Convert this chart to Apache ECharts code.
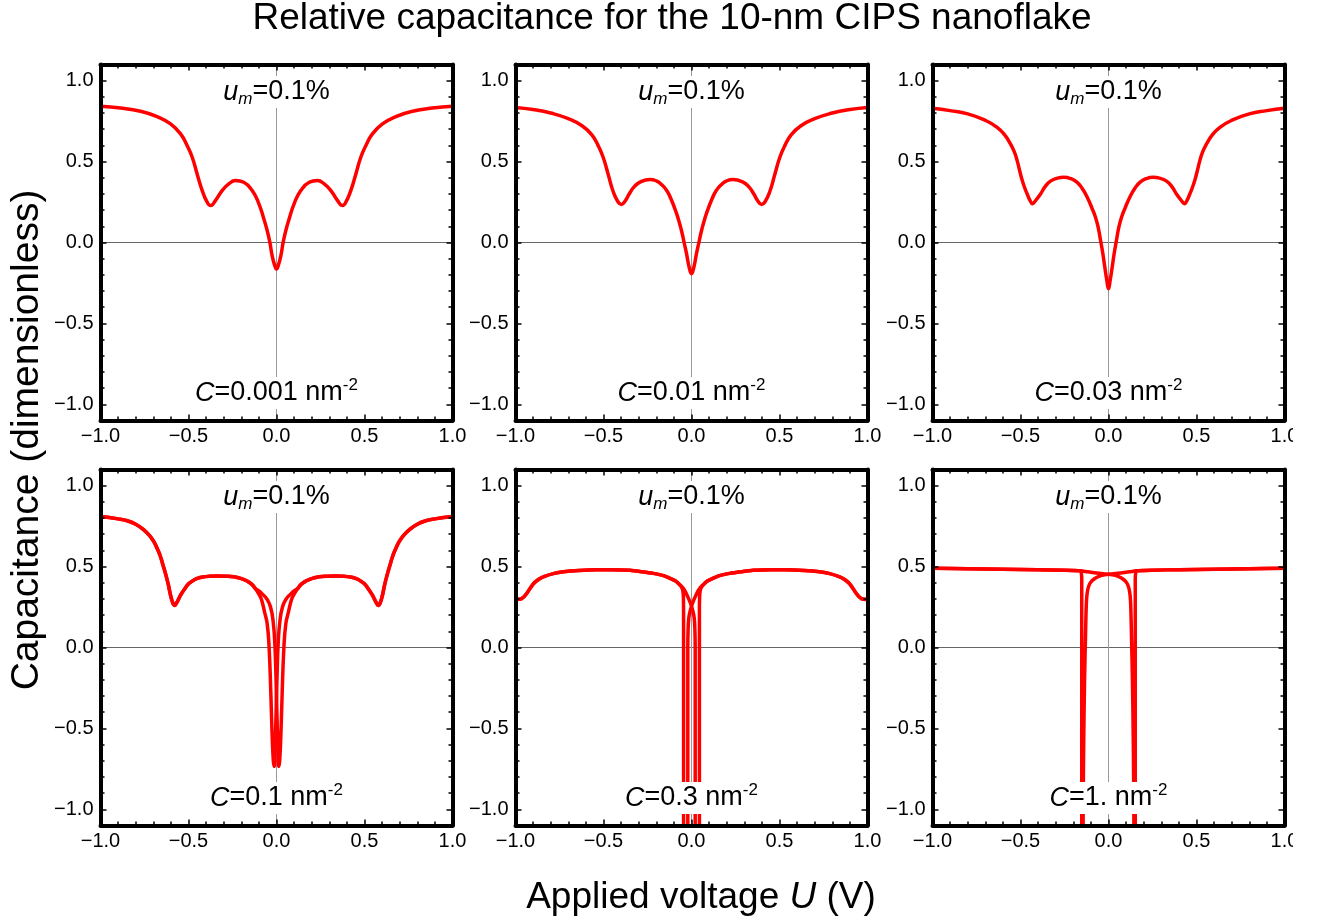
<!DOCTYPE html>
<html>
<head>
<meta charset="utf-8">
<title>Relative capacitance for the 10-nm CIPS nanoflake</title>
<script src="https://cdn.jsdelivr.net/npm/echarts@6.0.0/dist/echarts.min.js"></script>
<style>
  html, body { margin: 0; padding: 0; background: #fff; }
  #chart { width: 1324px; height: 921px; }
</style>
</head>
<body>
<div id="chart"></div>
<script>
const FONT = '"Liberation Sans", Arial, Helvetica, sans-serif';

// ticks shared by all six panels
const majorTicks = [-1, -0.5, 0, 0.5, 1];
const majorText = ['\u22121.0', '\u22120.5', '0.0', '0.5', '1.0'];
const minorTicks = [-0.9, -0.8, -0.7, -0.6, -0.4, -0.3, -0.2, -0.1, 0.1, 0.2, 0.3, 0.4, 0.6, 0.7, 0.8, 0.9];

// panel annotations
const strainText = '0.1%';
const cValues = ['0.001', '0.01', '0.03', '0.1', '0.3', '1.'];

// C = 0.001 nm^-2
const p1Left = [[-1, 0.842], [-0.886, 0.831], [-0.773, 0.811], [-0.678, 0.778], [-0.602, 0.733], [-0.545, 0.671], [-0.508, 0.599], [-0.479, 0.527], [-0.451, 0.424], [-0.422, 0.321], [-0.394, 0.249], [-0.375, 0.228], [-0.347, 0.259], [-0.309, 0.321], [-0.271, 0.362], [-0.233, 0.383], [-0.186, 0.372], [-0.138, 0.321], [-0.1, 0.239], [-0.072, 0.146], [-0.053, 0.074], [-0.038, 0.002], [-0.025, -0.08], [-0.012, -0.135], [0, -0.163]];
const p1Right = [[0.012, -0.135], [0.025, -0.08], [0.038, 0.002], [0.053, 0.074], [0.072, 0.146], [0.1, 0.239], [0.138, 0.321], [0.186, 0.372], [0.233, 0.383], [0.271, 0.362], [0.309, 0.321], [0.347, 0.259], [0.375, 0.228], [0.394, 0.249], [0.422, 0.321], [0.451, 0.424], [0.479, 0.527], [0.508, 0.599], [0.545, 0.671], [0.602, 0.733], [0.678, 0.778], [0.773, 0.811], [0.886, 0.831], [1, 0.842]];

// C = 0.01 nm^-2
const p2Left = [[-1, 0.835], [-0.9, 0.822], [-0.8, 0.80], [-0.7, 0.765], [-0.62, 0.72], [-0.566, 0.665], [-0.531, 0.6], [-0.502, 0.527], [-0.474, 0.424], [-0.445, 0.315], [-0.417, 0.25], [-0.398, 0.235], [-0.375, 0.26], [-0.354, 0.30], [-0.325, 0.345], [-0.29, 0.375], [-0.235, 0.389], [-0.2, 0.381], [-0.174, 0.362], [-0.14, 0.32], [-0.117, 0.27], [-0.09, 0.195], [-0.07, 0.126], [-0.055, 0.065], [-0.042, 0.0], [-0.028, -0.07], [-0.014, -0.15], [0, -0.193]];
const p2Right = [[0.014, -0.15], [0.028, -0.07], [0.042, 0.0], [0.055, 0.065], [0.07, 0.126], [0.09, 0.195], [0.117, 0.27], [0.14, 0.32], [0.174, 0.362], [0.2, 0.381], [0.235, 0.389], [0.29, 0.375], [0.325, 0.345], [0.354, 0.30], [0.375, 0.26], [0.398, 0.235], [0.417, 0.25], [0.445, 0.315], [0.474, 0.424], [0.502, 0.527], [0.531, 0.6], [0.566, 0.665], [0.62, 0.72], [0.7, 0.765], [0.8, 0.80], [0.9, 0.822], [1, 0.835]];

// C = 0.03 nm^-2
const p3Left = [[-1, 0.83], [-0.9, 0.815], [-0.8, 0.795], [-0.7, 0.755], [-0.633, 0.712], [-0.59, 0.665], [-0.557, 0.609], [-0.535, 0.56], [-0.519, 0.506], [-0.505, 0.445], [-0.49, 0.383], [-0.475, 0.335], [-0.462, 0.30], [-0.447, 0.262], [-0.432, 0.24], [-0.415, 0.258], [-0.386, 0.30], [-0.36, 0.345], [-0.33, 0.379], [-0.29, 0.398], [-0.254, 0.403], [-0.215, 0.395], [-0.178, 0.372], [-0.15, 0.335], [-0.121, 0.28], [-0.095, 0.215], [-0.074, 0.156], [-0.058, 0.09], [-0.045, 0.012], [-0.032, -0.07], [-0.021, -0.152], [-0.01, -0.23], [0, -0.286]];
const p3Right = [[0.01, -0.23], [0.021, -0.152], [0.032, -0.07], [0.045, 0.012], [0.058, 0.09], [0.074, 0.156], [0.095, 0.215], [0.121, 0.28], [0.15, 0.335], [0.178, 0.372], [0.215, 0.395], [0.254, 0.403], [0.29, 0.398], [0.33, 0.379], [0.36, 0.345], [0.386, 0.30], [0.415, 0.258], [0.432, 0.24], [0.447, 0.262], [0.462, 0.30], [0.475, 0.335], [0.49, 0.383], [0.505, 0.445], [0.519, 0.506], [0.535, 0.56], [0.557, 0.609], [0.59, 0.665], [0.633, 0.712], [0.7, 0.755], [0.8, 0.795], [0.9, 0.815], [1, 0.83]];

// C = 0.1 nm^-2, two sweep branches
const p4Left = [[-1, 0.81], [-0.9, 0.795], [-0.848, 0.783], [-0.8, 0.762], [-0.754, 0.727], [-0.72, 0.69], [-0.697, 0.654], [-0.675, 0.605], [-0.659, 0.561], [-0.645, 0.51], [-0.631, 0.458], [-0.615, 0.39], [-0.602, 0.323], [-0.59, 0.278], [-0.58, 0.26], [-0.568, 0.275], [-0.545, 0.323], [-0.52, 0.365], [-0.498, 0.395], [-0.465, 0.42], [-0.432, 0.433], [-0.38, 0.441], [-0.337, 0.442], [-0.29, 0.441], [-0.242, 0.437], [-0.2, 0.426], [-0.17, 0.412], [-0.14, 0.39]];
const p4MidA = [[-0.12, 0.364], [-0.1, 0.33], [-0.085, 0.295], [-0.067, 0.215], [-0.053, 0.147], [-0.042, 0.0], [-0.032, -0.288], [-0.025, -0.536], [-0.018, -0.70], [-0.013, -0.735], [-0.008, -0.62], [-0.002, -0.39], [0.004, -0.143], [0.0095, 0.023], [0.019, 0.16], [0.034, 0.25], [0.055, 0.30], [0.08, 0.33], [0.1, 0.35], [0.12, 0.364]];
const p4MidB = [[-0.12, 0.364], [-0.1, 0.35], [-0.08, 0.33], [-0.055, 0.30], [-0.034, 0.25], [-0.019, 0.16], [-0.0095, 0.023], [-0.004, -0.143], [0.002, -0.39], [0.008, -0.62], [0.013, -0.735], [0.018, -0.70], [0.025, -0.536], [0.032, -0.288], [0.042, 0.0], [0.053, 0.147], [0.067, 0.215], [0.085, 0.295], [0.1, 0.33], [0.12, 0.364]];
const p4Right = [[0.14, 0.39], [0.17, 0.412], [0.2, 0.426], [0.242, 0.437], [0.29, 0.441], [0.337, 0.442], [0.38, 0.441], [0.432, 0.433], [0.465, 0.42], [0.498, 0.395], [0.52, 0.365], [0.545, 0.323], [0.568, 0.275], [0.58, 0.26], [0.59, 0.278], [0.602, 0.323], [0.615, 0.39], [0.631, 0.458], [0.645, 0.51], [0.659, 0.561], [0.675, 0.605], [0.697, 0.654], [0.72, 0.69], [0.754, 0.727], [0.8, 0.762], [0.848, 0.783], [0.9, 0.795], [1, 0.81]];

// C = 0.3 nm^-2 (branches run off below -1.1)
const p5Left = [[-1, 0.296], [-0.965, 0.302], [-0.937, 0.333], [-0.9, 0.392], [-0.87, 0.42], [-0.842, 0.437], [-0.78, 0.458], [-0.728, 0.468], [-0.64, 0.476], [-0.54, 0.48], [-0.45, 0.48], [-0.35, 0.477], [-0.28, 0.468], [-0.217, 0.458], [-0.17, 0.447], [-0.141, 0.437], [-0.1, 0.416], [-0.084, 0.406], [-0.069, 0.39]];
const p5MidA = [[-0.058, 0.375], [-0.05, 0.355], [-0.046, 0.31], [-0.045, 0.2], [-0.045, -1.3], [-0.021, -1.3], [-0.021, 0.0], [-0.019, 0.12], [-0.015, 0.185], [-0.008, 0.225], [0, 0.255], [0.01, 0.285], [0.02, 0.31], [0.035, 0.345], [0.05, 0.37], [0.058, 0.38]];
const p5MidB = [[-0.058, 0.38], [-0.05, 0.37], [-0.035, 0.345], [-0.02, 0.31], [-0.01, 0.285], [0, 0.255], [0.008, 0.225], [0.015, 0.185], [0.019, 0.12], [0.021, 0.0], [0.021, -1.3], [0.045, -1.3], [0.045, 0.2], [0.046, 0.31], [0.05, 0.355], [0.058, 0.375]];
const p5Right = [[0.069, 0.39], [0.084, 0.406], [0.1, 0.416], [0.141, 0.437], [0.17, 0.447], [0.217, 0.458], [0.28, 0.468], [0.35, 0.477], [0.45, 0.48], [0.54, 0.48], [0.64, 0.476], [0.728, 0.468], [0.78, 0.458], [0.842, 0.437], [0.87, 0.42], [0.9, 0.392], [0.937, 0.333], [0.965, 0.302], [1, 0.296]];

// C = 1 nm^-2
const p6Left = [[-1, 0.49], [-0.8, 0.487], [-0.6, 0.484], [-0.4, 0.481], [-0.25, 0.478], [-0.16, 0.474]];
const p6MidA = [[-0.155, 0.465], [-0.152, 0.42], [-0.152, -1.3], [-0.145, -1.3], [-0.144, -1.0], [-0.141, -0.6], [-0.136, -0.2], [-0.131, 0.05], [-0.128, 0.2], [-0.125, 0.29], [-0.12, 0.345], [-0.112, 0.38], [-0.1, 0.405], [-0.08, 0.425], [-0.055, 0.44], [-0.03, 0.448], [0, 0.452], [0.04, 0.457], [0.08, 0.462], [0.12, 0.468]];
const p6MidB = [[-0.12, 0.468], [-0.08, 0.462], [-0.04, 0.457], [0, 0.452], [0.03, 0.448], [0.055, 0.44], [0.08, 0.425], [0.1, 0.405], [0.112, 0.38], [0.12, 0.345], [0.125, 0.29], [0.128, 0.2], [0.131, 0.05], [0.136, -0.2], [0.141, -0.6], [0.144, -1.0], [0.145, -1.3], [0.152, -1.3], [0.152, 0.42], [0.155, 0.465]];
const p6Right = [[0.16, 0.474], [0.25, 0.478], [0.4, 0.481], [0.6, 0.484], [0.8, 0.487], [1, 0.49]];

const panelCurves = [
  [[...p1Left, ...p1Right]],
  [[...p2Left, ...p2Right]],
  [[...p3Left, ...p3Right]],
  [[...p4Left, ...p4MidA, ...p4Right], [...p4Left, ...p4MidB, ...p4Right]],
  [[...p5Left, ...p5MidA, ...p5Right], [...p5Left, ...p5MidB, ...p5Right]],
  [[...p6Left, ...p6MidA, ...p6Right], [...p6Left, ...p6MidB, ...p6Right]]
];

// layout of the 2x3 panel grid (px); half pixels keep the 1px zero lines crisp
const colLeft = [100.5, 515.5, 932.5];
const rowTop = [64.5, 469.5];
const plotW = 352;
const plotH = 356;

const tickLabel = v => {
  const k = majorTicks.findIndex(t => Math.abs(t - v) < 1e-6);
  return k >= 0 ? majorText[k] : '';
};

function frameAxis(dim, gi, pos, ticks, len, withLabels) {
  const ax = {
    type: 'value', gridIndex: gi, position: pos, z: 3,
    min: dim === 'x' ? -1 : -1.1,
    max: dim === 'x' ? 1 : 1.1,
    axisLine: { show: len > 4, onZero: false, lineStyle: { color: '#000', width: 4 } },
    axisTick: { show: true, inside: true, length: len, customValues: ticks, lineStyle: { color: '#000', width: 1.5 } },
    axisLabel: { show: false },
    splitLine: { show: false },
    axisPointer: { show: false }
  };
  if (withLabels) {
    ax.axisLabel = {
      show: true, customValues: majorTicks, formatter: tickLabel,
      margin: dim === 'x' ? 6 : 7,
      fontFamily: FONT, fontSize: 20, color: '#000'
    };
  }
  return ax;
}

const grids = [], xAxes = [], yAxes = [], series = [];
for (let i = 0; i < 6; i++) {
  const row = Math.floor(i / 3), col = i % 3;
  grids.push({ left: colLeft[col], top: rowTop[row], width: plotW, height: plotH, containLabel: false, outerBoundsMode: 'none' });
  xAxes.push(frameAxis('x', i, 'bottom', majorTicks, 6, true));
  xAxes.push(frameAxis('x', i, 'bottom', minorTicks, 4, false));
  xAxes.push(frameAxis('x', i, 'top', majorTicks, 6, false));
  xAxes.push(frameAxis('x', i, 'top', minorTicks, 4, false));
  yAxes.push(frameAxis('y', i, 'left', majorTicks, 6, true));
  yAxes.push(frameAxis('y', i, 'left', minorTicks, 4, false));
  yAxes.push(frameAxis('y', i, 'right', majorTicks, 6, false));
  yAxes.push(frameAxis('y', i, 'right', minorTicks, 4, false));

  const ax = { xAxisIndex: 4 * i, yAxisIndex: 4 * i };
  // thin grey axes through the origin
  series.push({ ...ax, type: 'line', z: 1, silent: true, symbol: 'none',
    lineStyle: { color: '#666', width: 1 }, data: [[-1, 0], [1, 0]] });
  series.push({ ...ax, type: 'line', z: 1, silent: true, symbol: 'none',
    lineStyle: { color: '#999', width: 1 }, data: [[0, -1.1], [0, 1.1]] });

  panelCurves[i].forEach(curve => {
    series.push({ ...ax, type: 'line', z: 2, silent: true, symbol: 'none', smooth: i < 4 ? 0.5 : 0.3,
      lineStyle: { color: '#ff0000', width: 3.5 }, data: curve });
  });
}

const chart = echarts.init(document.getElementById('chart'), null, { renderer: 'canvas' });
chart.setOption({
  animation: false,
  backgroundColor: '#fff',
  grid: grids,
  xAxis: xAxes,
  yAxis: yAxes,
  series: series
});

// panel annotations, placed at data coordinates of each panel, on white boxes
const noteRich = {
  n: { fontFamily: FONT, fontSize: 27, lineHeight: 32, fill: '#000' },
  i: { fontFamily: FONT, fontSize: 27, lineHeight: 32, fontStyle: 'italic', fill: '#000' },
  s: { fontFamily: FONT, fontSize: 17, lineHeight: 17, fontStyle: 'italic', verticalAlign: 'bottom', fill: '#000' },
  p: { fontFamily: FONT, fontSize: 17, lineHeight: 17, verticalAlign: 'top', fill: '#000' }
};
const notes = [];
for (let i = 0; i < 6; i++) {
  const finder = { xAxisIndex: 4 * i, yAxisIndex: 4 * i };
  const top = chart.convertToPixel(finder, [0, 0.93]);
  const bot = chart.convertToPixel(finder, [0, -0.93]);
  notes.push({ type: 'text', x: top[0], y: top[1], z: 50,
    style: { text: '{i|u}{s|m}{n|=' + strainText + '}', rich: noteRich, align: 'center', verticalAlign: 'middle', backgroundColor: '#fff', padding: [0, 3] } });
  notes.push({ type: 'text', x: bot[0], y: bot[1], z: 50,
    style: { text: '{i|C}{n|=' + cValues[i] + ' nm}{p|-2}', rich: noteRich, align: 'center', verticalAlign: 'middle', backgroundColor: '#fff', padding: [0, 3] } });
}

chart.setOption({
  graphic: [
    { type: 'text', x: 672, y: 19, z: 20,
      style: { text: 'Relative capacitance for the 10-nm CIPS nanoflake', fontFamily: FONT, fontSize: 37, fill: '#000', align: 'center', verticalAlign: 'middle' } },
    { type: 'text', x: 701, y: 898, z: 20,
      style: { text: '{n|Applied voltage }{i|U}{n| (V)}', align: 'center', verticalAlign: 'middle',
        rich: {
          n: { fontFamily: FONT, fontSize: 37, fill: '#000' },
          i: { fontFamily: FONT, fontSize: 37, fontStyle: 'italic', fill: '#000' }
        } } },
    { type: 'text', x: 27, y: 440, z: 20, rotation: Math.PI / 2,
      style: { text: 'Capacitance (dimensionless)', fontFamily: FONT, fontSize: 39, fill: '#000', align: 'center', verticalAlign: 'middle' } },
    ...notes,
    // the reference image is cropped just right of the last panel
    { type: 'rect', z: 100, shape: { x: 1293, y: 0, width: 31, height: 921 }, style: { fill: '#fff' } }
  ]
});
</script>
</body>
</html>
